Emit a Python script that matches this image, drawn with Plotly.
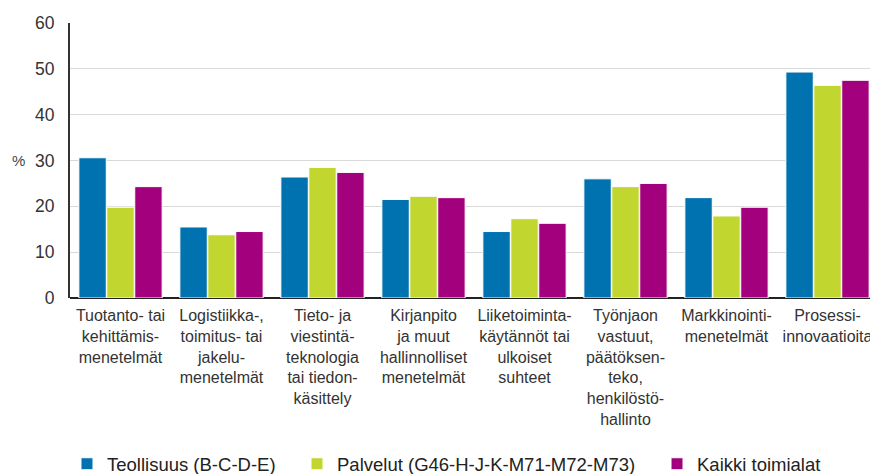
import plotly.graph_objects as go

categories = [
    "Tuotanto- tai<br>kehittämis-<br>menetelmät",
    "Logistiikka-,<br>toimitus- tai<br>jakelu-<br>menetelmät",
    "Tieto- ja<br>viestintä-<br>teknologia<br>tai tiedon-<br>käsittely",
    "Kirjanpito<br>ja muut<br>hallinnolliset<br>menetelmät",
    "Liiketoiminta-<br>käytännöt tai<br>ulkoiset<br>suhteet",
    "Työnjaon<br>vastuut,<br>päätöksen-<br>teko,<br>henkilöstö-<br>hallinto",
    "Markkinointi-<br>menetelmät",
    "Prosessi-<br>innovaatioita",
]
teollisuus = [30.6, 15.5, 26.4, 21.5, 14.5, 26.0, 21.9, 49.3]
palvelut = [19.8, 13.8, 28.5, 22.2, 17.3, 24.3, 17.9, 46.4]
kaikki = [24.3, 14.5, 27.4, 21.9, 16.3, 25.0, 19.8, 47.5]
series_names = ["Teollisuus (B-C-D-E)", "Palvelut (G46-H-J-K-M71-M72-M73)", "Kaikki toimialat"]
colors = ["#0072b0", "#c1d72f", "#a3007e"]
y_ticks = [0, 10, 20, 30, 40, 50, 60]

legend_ids = ["legend", "legend2", "legend3"]
legend_x = [0.0678, 0.3322, 0.7460]

fig = go.Figure()
for name, vals, col, lid in zip(series_names, [teollisuus, palvelut, kaikki], colors, legend_ids):
    fig.add_trace(go.Bar(
        x=categories, y=vals, name=name, legend=lid,
        marker=dict(color=col, line=dict(color="white", width=1)),
    ))

legend_common = dict(
    orientation="h", xanchor="left", xref="container",
    yref="container", y=0.021, yanchor="middle",
    font=dict(size=18.5, color="#222222"),
    itemwidth=30, bgcolor="rgba(0,0,0,0)", borderwidth=0,
)

fig.update_layout(
    width=870, height=466,
    margin=dict(l=62, r=0, t=15, b=176, autoexpand=False),
    paper_bgcolor="white", plot_bgcolor="white",
    barmode="group", bargap=0.17, bargroupgap=0.02,
    font=dict(family="Liberation Sans, Arial, sans-serif", color="#333333"),
    showlegend=True,
    legend=dict(legend_common, x=legend_x[0]),
    legend2=dict(legend_common, x=legend_x[1]),
    legend3=dict(legend_common, x=legend_x[2]),
    xaxis=dict(
        type="category", range=[-0.5, 7.5], automargin=False,
        showgrid=False, showline=False, ticks="",
        tickfont=dict(size=16, color="#333333"),
        ticklabelstandoff=6,
    ),
    yaxis=dict(
        range=[0, 60], tickvals=y_ticks, automargin=False,
        showgrid=True, gridcolor="#d9d9d9", gridwidth=1,
        showline=True, linecolor="#333333", linewidth=2,
        zeroline=True, zerolinecolor="#222222", zerolinewidth=2,
        ticks="", tickfont=dict(size=17.5, color="#333333"),
        ticklabelstandoff=10,
    ),
)
fig.add_annotation(
    text="%", xref="paper", yref="y", x=0, y=30,
    xanchor="right", xshift=-43, showarrow=False,
    font=dict(size=15, color="#444444"),
)
fig.write_html("out.html")
